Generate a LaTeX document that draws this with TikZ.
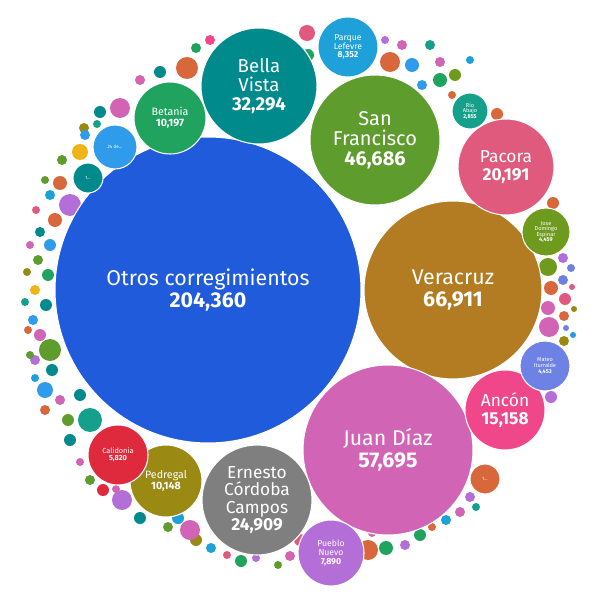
\documentclass[tikz,border=0pt]{standalone}
\usepackage{fontspec}
\setmainfont{Fira Sans}
\begin{document}
\definecolor{cblue}{HTML}{1F5BDB}
\definecolor{cbrown}{HTML}{B47C22}
\definecolor{cpink}{HTML}{D264B6}
\definecolor{cgreen}{HTML}{5E9C2E}
\definecolor{cteal}{HTML}{008A8C}
\definecolor{cgrey}{HTML}{7F7F7F}
\definecolor{crose}{HTML}{E05A7E}
\definecolor{chot}{HTML}{F0478A}
\definecolor{colive}{HTML}{9A8A14}
\definecolor{cemer}{HTML}{1FA35F}
\definecolor{csky}{HTML}{2E9CEB}
\definecolor{cred}{HTML}{DE2A3C}
\definecolor{cviol}{HTML}{B46ED8}
\definecolor{cperi}{HTML}{6E82E6}
\definecolor{cleaf}{HTML}{6E9A1E}
\definecolor{cjade}{HTML}{14A08A}
\definecolor{cazure}{HTML}{1EA0D8}
\definecolor{corg}{HTML}{D8683C}
\definecolor{cyel}{HTML}{F0B416}
\begin{tikzpicture}[x=0.75pt,y=-0.75pt,
  bub/.style={circle,draw=white,line width=0.8pt,text=white,align=center,inner sep=0pt,font=\fontsize{#1}{#1}\selectfont},
  bub/.default=10]
\useasboundingbox (0,0) rectangle (600,599);
% small bubbles
\foreach \x/\y/\r/\c in {196/48/5/cemer,210/40/5/chot,187/68/11/corg,160/72/6/cteal,140/80/5/cpink,120/108/10/cpink,100/112/6/cteal,84/128/5/colive,80/152/8/cyel,62/160/5/cgreen,85/135/5/csky,97/124/4/cjade,
307/33/8/crose,308/55/6/cemer,390/62/10/corg,385/40/4/cviol,402/45/5/cpink,412/65/7/csky,430/45/5/cjade,440/62/5/cpink,455/75/6/cleaf,422/85/5/csky,440/80/7/cemer,470/60/4/cazure,452/95/4/corg,
497/114/6/corg,553/203/6/corg,548/267/9/cleaf,563/258/5/cviol,571/268/4/cperi,563/280/5/cperi,572/287/3/crose,551/288/7/corg,565/299/6/crose,548/308/7/cpink,574/309/3/colive,564/316/5/corg,549/327/10/cpink,566/328/3/cperi,573/335/3/cazure,564/341/5/colive,551/397/6/cviol,
470/497/5/cviol,476/507/4/cjade,460/512/5/cpink,446/520/5/cazure,432/527/4/corg,420/535/6/cemer,405/545/5/cviol,386/548/7/cemer,368/550/10/corg,372/533/4/cpink,
300/540/6/crose,290/556/5/cpink,278/565/4/cgreen,256/558/4/cviol,241/561/6/cemer,227/555/4/crose,211/548/5/cazure,196/540/6/colive,190/530/10/cpink,178/518/6/cazure,168/527/5/cgreen,140/518/6/cteal,122/500/10/cviol,103/490/6/cred,116/489/4/cpink,90/480/5/cgreen,80/462/4/cpink,70/440/6/cteal,90/420/12/cjade,68/420/6/cgreen,45/410/5/corg,60/400/5/cpink,45/390/8/csky,52/370/6/cteal,35/360/5/cviol,50/350/11/cgreen,
40/335/6/cpink,33/320/5/csky,46/305/6/cteal,35/290/5/cyel,48/275/6/cemer,38/260/5/cgreen,50/245/6/csky,40/232/5/cteal,55/220/7/corg,70/205/11/cviol,50/195/5/cazure,45/180/4/cgreen,30/245/4/cpink,27/272/4/colive,25/302/4/cjade,28/330/4/corg,30/355/4/cgreen,35/378/4/cazure,80/395/6/cteal,60/183/7/corg,36/210/4/crose}
  \fill[\c] (\x,\y) circle[radius=\r];
% labelled bubbles
\node[bub=16, fill=cblue, minimum size=306pt*0.75] (otros) at (208,290) {Otros corregimientos\\\textbf{204,360}};
\node[bub=16, fill=cbrown, minimum size=178pt*0.75] (vera) at (453,290) {Veracruz\\\textbf{66,911}};
\node[bub=16, fill=cpink, minimum size=170pt*0.75] (juan) at (388,450) {Juan Díaz\\\textbf{57,695}};
\node[bub=15, fill=cgreen, minimum size=130pt*0.75] (sanf) at (375,140) {San\\Francisco\\\textbf{46,686}};
\node[bub=14, fill=cteal, minimum size=116pt*0.75] (bella) at (259,86) {Bella\\Vista\\\textbf{32,294}};
\node[bub=13, fill=cgrey, minimum size=110pt*0.75] (erne) at (257,500) {Ernesto\\Córdoba\\Campos\\\textbf{24,909}};
\node[bub=13, fill=crose, minimum size=96pt*0.75] (pac) at (506,167) {Pacora\\\textbf{20,191}};
\node[bub=13, fill=chot, minimum size=80pt*0.75] (anc) at (505,410) {Ancón\\\textbf{15,158}};
\node[bub=8, fill=colive, minimum size=72pt*0.75] (ped) at (166,481) {Pedregal\\\textbf{10,148}};
\node[bub=8, fill=cemer, minimum size=72pt*0.75] (bet) at (170,118) {Betania\\\textbf{10,197}};
\node[bub=6.5, fill=cazure, minimum size=60pt*0.75] (parq) at (348,47) {Parque\\Lefevre\\\textbf{8,352}};
\node[bub=6.5, fill=cviol, minimum size=66pt*0.75] (pueb) at (331,553) {Pueblo\\Nuevo\\\textbf{7,890}};
\node[bub=5.5, fill=cred, minimum size=60pt*0.75] (cal) at (118,455) {Calidonia\\\textbf{5,820}};
\node[bub=4.2, fill=cperi, minimum size=50pt*0.75] (mat) at (545,366) {Mateo\\Iturralde\\\textbf{4,453}};
\node[bub=4.2, fill=cleaf, minimum size=48pt*0.75] (jose) at (546,232) {Jose\\Domingo\\Espinar\\\textbf{4,459}};
\node[bub=4.2, fill=cjade, minimum size=36pt*0.75] (rio) at (470,111) {Río\\Abajo\\\textbf{2,855}};
\node[bub=3.5, fill=csky, minimum size=44pt*0.75] (d24) at (115,147) {24 de...};
\node[bub=3.5, fill=cteal, minimum size=30pt*0.75] (l1) at (88,178) {1...};
\node[bub=3.5, fill=corg, minimum size=30pt*0.75] (l2) at (485,479) {1...};
\end{tikzpicture}
\end{document}
